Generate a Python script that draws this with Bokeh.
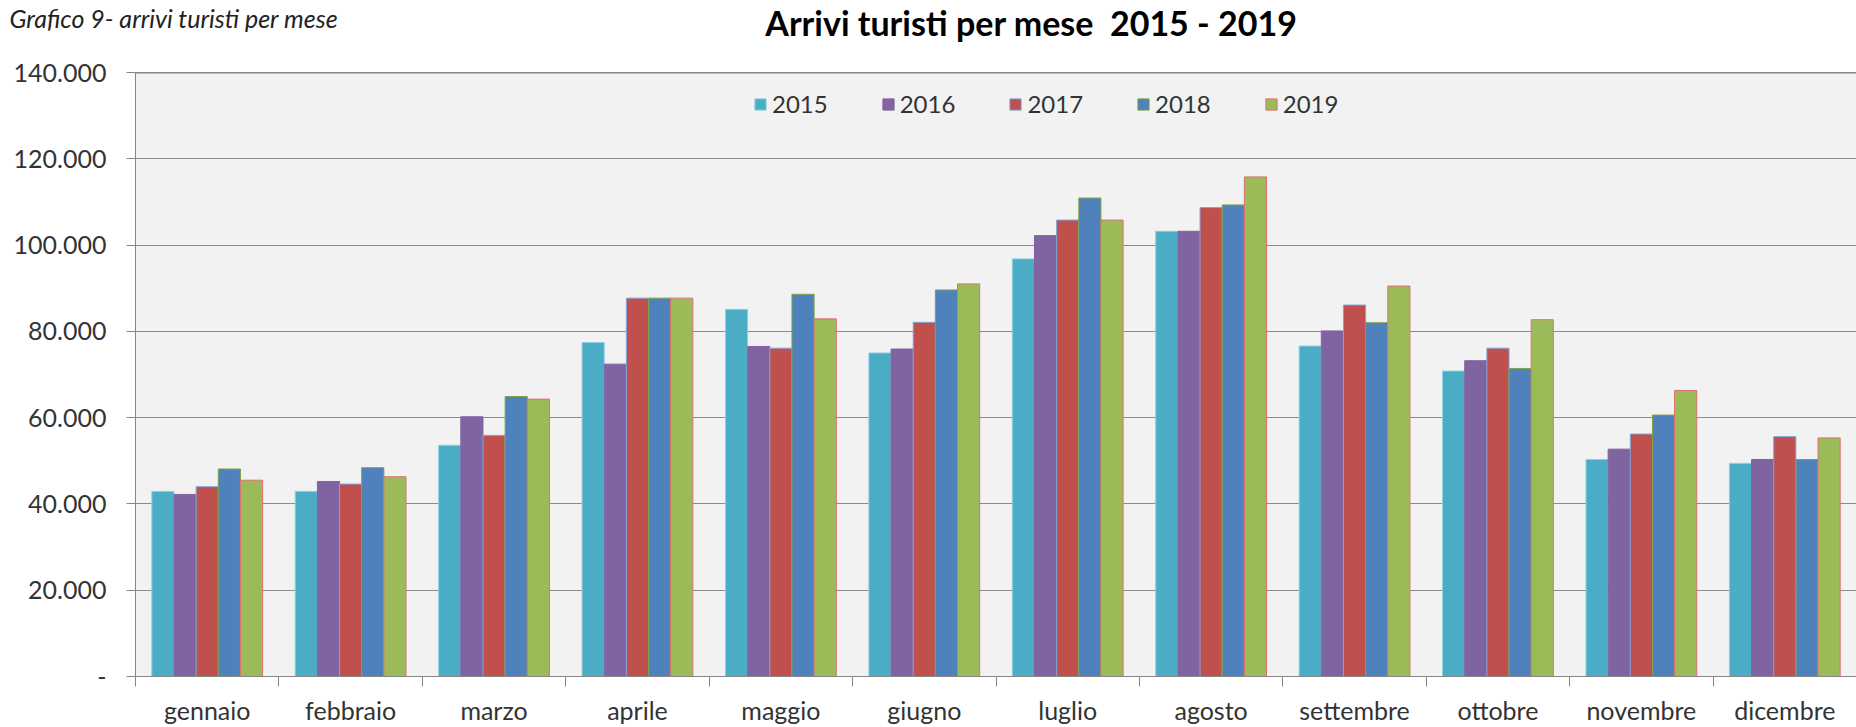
from bokeh.plotting import figure
from bokeh.models import ColumnDataSource, FixedTicker, Span, Label, Legend, LegendItem, Range1d
from bokeh.transform import dodge
from bokeh.embed import file_html
from bokeh.resources import INLINE

months = ["gennaio", "febbraio", "marzo", "aprile", "maggio", "giugno",
          "luglio", "agosto", "settembre", "ottobre", "novembre", "dicembre"]
years = ["2015", "2016", "2017", "2018", "2019"]

arrivi_2015 = [42900, 42900, 53600, 77400, 85100, 75000, 96800, 103200, 76600, 70800, 50300, 49400]
arrivi_2016 = [42200, 45200, 60200, 72400, 76500, 75900, 102200, 103200, 80100, 73200, 52700, 50300]
arrivi_2017 = [44000, 44600, 55900, 87700, 76100, 82100, 105800, 108700, 86100, 76100, 56200, 55600]
arrivi_2018 = [48100, 48400, 64900, 87700, 88600, 89600, 110900, 109300, 82000, 71400, 60600, 50300]
arrivi_2019 = [45500, 46300, 64300, 87700, 82900, 91000, 105800, 115800, 90500, 82700, 66300, 55300]

series = [arrivi_2015, arrivi_2016, arrivi_2017, arrivi_2018, arrivi_2019]
fill_colors = ["#4BACC6", "#8064A2", "#C0504D", "#4F81BD", "#9BBB59"]
line_colors = ["#8ED0E0", "#8064A2", "#7DA7D9", "#7FA24A", "#E07070"]

y_ticks = [0, 20000, 40000, 60000, 80000, 100000, 120000, 140000]
y_tick_labels = ["-", "20.000", "40.000", "60.000", "80.000", "100.000", "120.000", "140.000"]

caption_text = "Grafico 9- arrivi turisti per mese"
title_text = "Arrivi turisti per mese\u00a0 2015 - 2019"

# ---------- header (caption + title) ----------
header = figure(width=1856, height=50, x_range=Range1d(0, 1856), y_range=Range1d(50, 0),
                output_backend="svg", toolbar_location=None,
                x_axis_type=None, y_axis_type=None,
                min_border_left=0, min_border_right=0, min_border_top=0, min_border_bottom=0)
header.outline_line_color = None
header.background_fill_color = "white"
header.border_fill_color = "white"
header.grid.visible = False
header.add_layout(Label(x=9, y=2, text=caption_text, text_font="Lato",
                        text_font_style="italic", text_font_size="25px", text_color="#222222",
                        text_baseline="top", text_align="left"))
header.add_layout(Label(x=1031, y=22, text=title_text, text_font="Lato",
                        text_font_style="bold", text_font_size="34px", text_color="#000000",
                        text_baseline="middle", text_align="center"))

# ---------- chart ----------
x_centers = [i + 0.5 for i in range(len(months))]
data = {"x": x_centers}
for yr, vals in zip(years, series):
    data["y" + yr] = vals
src = ColumnDataSource(data)

p = figure(width=1856, height=677, x_range=Range1d(0, 12), y_range=Range1d(0, 140000),
           output_backend="svg", toolbar_location=None,
           min_border_left=135, min_border_right=0, min_border_top=22, min_border_bottom=50)

bar_w = 0.1545
items = []
for j, yr in enumerate(years):
    r = p.vbar(x=dodge("x", (j - 2) * bar_w, range=p.x_range), top="y" + yr, width=bar_w,
               source=src, fill_color=fill_colors[j], line_color=line_colors[j], line_width=1)
    items.append(LegendItem(label=yr, renderers=[r]))

legend = Legend(items=items, orientation="horizontal", location=(618, 558),
                background_fill_alpha=0, border_line_color=None, padding=0, margin=0,
                spacing=53, glyph_width=14, glyph_height=14, label_standoff=5,
                label_text_font="Lato", label_text_font_size="24px", label_text_color="#333333")
p.add_layout(legend)

p.background_fill_color = "#F2F2F2"
p.border_fill_color = "white"
p.outline_line_color = None

p.xgrid.visible = False
p.ygrid.ticker = FixedTicker(ticks=y_ticks)
p.ygrid.grid_line_color = "#8C8C8C"
p.ygrid.grid_line_width = 1

p.add_layout(Span(location=140000, dimension="width", line_color="#1a1a1a", line_width=1.5))

yax = p.yaxis[0]
yax.ticker = FixedTicker(ticks=y_ticks)
yax.major_label_overrides = dict(zip(y_ticks, y_tick_labels))
yax.axis_line_color = "#868686"
yax.major_tick_line_color = "#868686"
yax.major_tick_out = 9
yax.major_tick_in = 0
yax.minor_tick_line_color = None
yax.major_label_standoff = 20
yax.major_label_text_font = "Lato"
yax.major_label_text_font_size = "25px"
yax.major_label_text_color = "#333333"

xax = p.xaxis[0]
xax.ticker = FixedTicker(ticks=x_centers, minor_ticks=list(range(len(months) + 1)))
xax.major_label_overrides = dict(zip(x_centers, months))
xax.axis_line_color = "#868686"
xax.major_tick_out = 0
xax.major_tick_in = 0
xax.minor_tick_out = 10
xax.minor_tick_in = 0
xax.minor_tick_line_color = "#868686"
xax.major_label_standoff = 8
xax.major_label_text_font = "Lato"
xax.major_label_text_font_size = "25px"
xax.major_label_text_color = "#333333"

open("out.html", "w").write(file_html([header, p], INLINE))
